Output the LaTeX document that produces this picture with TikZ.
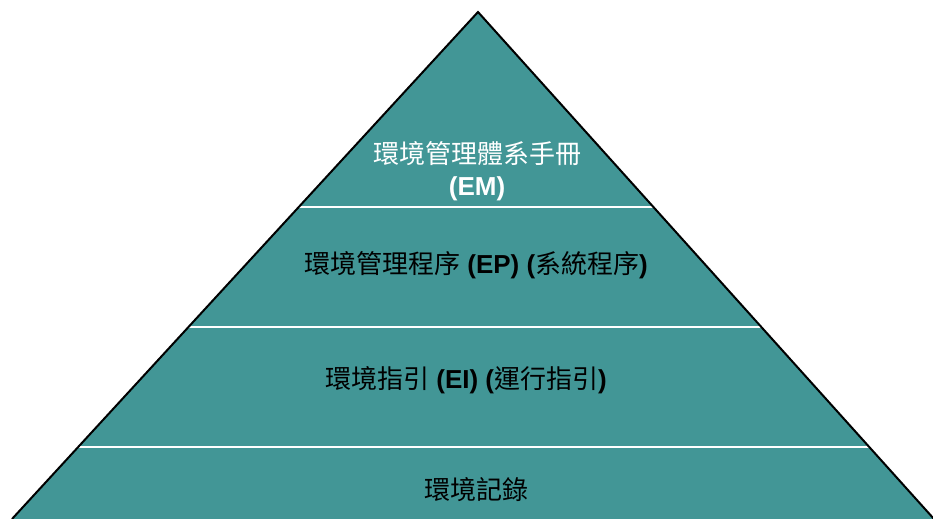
\documentclass[tikz,border=0pt]{standalone}
\usepackage{fontspec}
\setmainfont{Liberation Sans}
\newfontfamily\cjkfont{Noto Sans CJK TC}
\newcommand{\cj}[1]{{\cjkfont\mdseries #1}}
\definecolor{pyr}{RGB}{66,150,150}
\begin{document}
\begin{tikzpicture}[x=1bp,y=-1bp,
  lbl/.style={font=\fontsize{26bp}{30bp}\selectfont\bfseries, inner sep=0pt, anchor=center},
  sep/.style={white, line width=2bp},
  edge/.style={black, line width=2bp, line join=miter}]
\useasboundingbox (0,0) rectangle (933,519);
\coordinate (apex) at (478,12);
\coordinate (bl) at (12,519);
\coordinate (br) at (934,519);
\fill[pyr] (apex) -- (bl) -- (br) -- cycle;
\begin{scope}
  \clip (apex) -- (bl) -- (br) -- cycle;
  \foreach \yy in {207,327,447} \draw[sep] (0,\yy) -- (933,\yy);
\end{scope}
\draw[edge] (bl) -- (apex) -- (br);
\node[lbl, text=white] (em1) at (477,154) {\cj{環境管理體系手冊}};
\node[lbl, text=white] (em2) at (477,189) {(EM)};
\node[lbl] (ep) at (476,265) {\cj{環境管理程序} (EP) (\cj{系統程序})};
\node[lbl] (ei) at (466,380) {\cj{環境指引} (EI) (\cj{運行指引})};
\node[lbl] (er) at (476,490) {\cj{環境記錄}};
\end{tikzpicture}
\end{document}
